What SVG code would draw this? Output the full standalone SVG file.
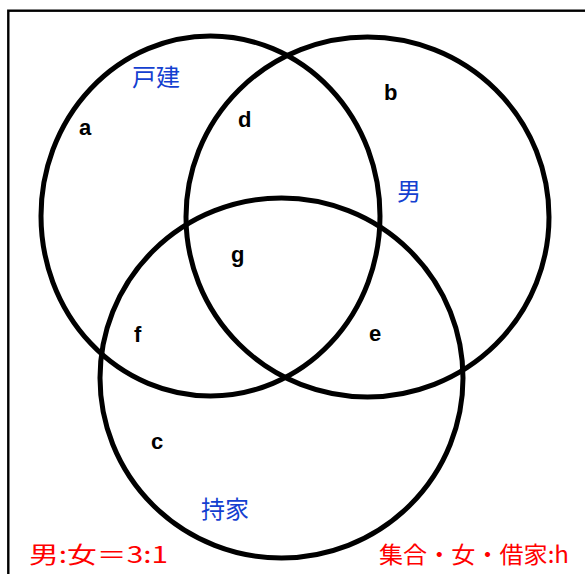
<svg xmlns="http://www.w3.org/2000/svg" width="585" height="574" viewBox="0 0 585 574">
<style>
.c{fill:none;stroke:#000;stroke-width:5}
.lbl{font-family:"Noto Sans CJK JP","Noto Sans",sans-serif;font-size:24px;fill:#1440d0}
.let{font-family:"Liberation Sans",Arial,sans-serif;font-weight:bold;font-size:22px;fill:#000}
.red{font-family:"Noto Sans CJK JP","Noto Sans",sans-serif;font-size:23px;fill:#f00}
</style>
<rect x="0" y="0" width="585" height="574" fill="#fff"/>
<rect x="8.3" y="10.7" width="620" height="620" fill="none" stroke="#000" stroke-width="2.4"/>
<g id="set-kodate">
<ellipse class="c" cx="210.5" cy="216" rx="169.5" ry="180"/>
<text class="lbl" x="132" y="86">戸建</text>
</g>
<g id="set-otoko">
<ellipse class="c" cx="367.5" cy="217" rx="181.5" ry="180"/>
<text class="lbl" x="397" y="200">男</text>
</g>
<g id="set-mochiie">
<ellipse class="c" cx="281.5" cy="378" rx="181.5" ry="180"/>
<text class="lbl" x="201" y="518">持家</text>
</g>
<g id="regions">
<text class="let" x="79" y="135">a</text>
<text class="let" x="384" y="100">b</text>
<text class="let" x="151" y="449">c</text>
<text class="let" x="238" y="127">d</text>
<text class="let" x="369" y="341">e</text>
<text class="let" x="134" y="342">f</text>
<text class="let" x="231" y="262">g</text>
</g>
<g id="notes">
<text class="red" x="29" y="563" textLength="139" lengthAdjust="spacingAndGlyphs">男:女＝3:1</text>
<text class="red" x="379" y="563" textLength="190" lengthAdjust="spacingAndGlyphs">集合・女・借家:h</text>
</g>
</svg>
